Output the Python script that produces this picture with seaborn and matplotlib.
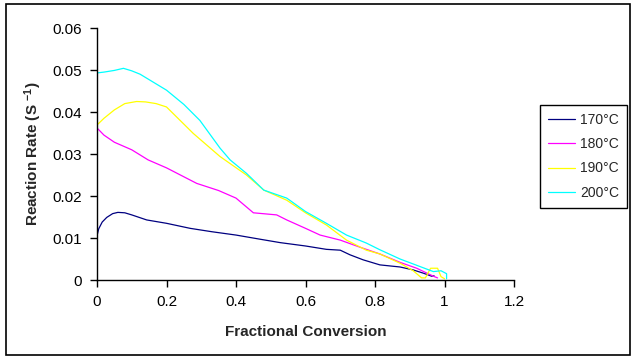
import numpy as np
import pandas as pd
import matplotlib
matplotlib.use('Agg')
import matplotlib.pyplot as plt
from matplotlib.patches import Rectangle
from matplotlib.ticker import FuncFormatter
import seaborn as sns

# 数据
x_170 = [0, 0.005, 0.015, 0.028, 0.045, 0.06, 0.08, 0.1, 0.143, 0.2, 0.268, 0.33, 0.4, 0.47,
         0.527, 0.6, 0.66, 0.7, 0.728, 0.766, 0.814, 0.872, 0.91, 0.94, 0.963, 0.97]
y_170 = [0.0105, 0.0122, 0.0138, 0.0149, 0.0158, 0.0161, 0.016, 0.0155, 0.0143, 0.0135, 0.0123,
         0.0115, 0.0107, 0.0097, 0.0089, 0.0081, 0.0073, 0.0071, 0.006, 0.0048, 0.0036, 0.0031,
         0.0024, 0.0016, 0.0009, 0.001]

x_180 = [0, 0.02, 0.05, 0.1, 0.147, 0.2, 0.287, 0.35, 0.4, 0.45, 0.517, 0.546, 0.6, 0.642, 0.7,
         0.757, 0.814, 0.872, 0.92, 0.968, 0.98]
y_180 = [0.0362, 0.0345, 0.0328, 0.031, 0.0286, 0.0267, 0.023, 0.0213, 0.0195, 0.016, 0.0155,
         0.0143, 0.0123, 0.0107, 0.0095, 0.0078, 0.0062, 0.0042, 0.0028, 0.0009, 0.0005]

x_190 = [0, 0.02, 0.05, 0.08, 0.114, 0.14, 0.17, 0.2, 0.277, 0.354, 0.43, 0.48, 0.546, 0.6, 0.66,
         0.718, 0.775, 0.814, 0.872, 0.91, 0.934, 0.945, 0.96, 0.98, 0.99, 1.0]
y_190 = [0.0369, 0.0385, 0.0405, 0.042, 0.0425, 0.0424, 0.042, 0.0412, 0.0349, 0.0294, 0.025,
         0.0214, 0.019, 0.016, 0.0131, 0.0095, 0.0071, 0.0062, 0.004, 0.0022, 0.0005, 0.0005,
         0.0028, 0.0028, 0.0008, 0.0003]

x_200 = [0, 0.02, 0.05, 0.076, 0.1, 0.124, 0.16, 0.2, 0.25, 0.296, 0.354, 0.383, 0.43, 0.48,
         0.546, 0.6, 0.66, 0.718, 0.775, 0.814, 0.872, 0.92, 0.968, 0.99, 1.006, 1.006]
y_200 = [0.0493, 0.0495, 0.0499, 0.0504, 0.0498, 0.049, 0.0472, 0.0452, 0.0418, 0.038, 0.0314,
         0.0286, 0.0254, 0.0214, 0.0195, 0.0163, 0.0135, 0.0107, 0.0088, 0.0072, 0.005, 0.0035,
         0.002, 0.0022, 0.0015, 0.0003]

labels = ['170°C', '180°C', '190°C', '200°C']
colors = ['#000080', '#FF00FF', '#FFFF00', '#00FFFF']
x_ticks = [0, 0.2, 0.4, 0.6, 0.8, 1, 1.2]
y_ticks = [0, 0.01, 0.02, 0.03, 0.04, 0.05, 0.06]

# 整理成长表
frames = []
for lab, xs, ys in zip(labels, [x_170, x_180, x_190, x_200], [y_170, y_180, y_190, y_200]):
    frames.append(pd.DataFrame({'x': xs, 'y': ys, 'temp': lab}))
df = pd.concat(frames, ignore_index=True)

sns.set_style('ticks')
plt.rcParams['font.family'] = ['Liberation Sans', 'DejaVu Sans']
plt.rcParams['mathtext.fontset'] = 'custom'
plt.rcParams['mathtext.rm'] = 'Liberation Sans:bold'
plt.rcParams['mathtext.it'] = 'Liberation Sans:bold'

fig = plt.figure(figsize=(6.39, 3.62), dpi=100)
ax = fig.add_axes([97 / 639, 1 - 280 / 362, 417 / 639, 252 / 362])

sns.lineplot(data=df, x='x', y='y', hue='temp', palette=dict(zip(labels, colors)),
             estimator=None, sort=False, units='temp', linewidth=0.9, ax=ax)

ax.set_xlim(0, 1.2)
ax.set_ylim(0, 0.06)
ax.set_xticks(x_ticks)
ax.set_yticks(y_ticks)
fmt = FuncFormatter(lambda v, p: '%g' % round(v, 4))
ax.xaxis.set_major_formatter(fmt)
ax.yaxis.set_major_formatter(fmt)
ax.tick_params(axis='both', direction='out', length=5, width=1, color='black',
               labelsize=11, pad=6, labelcolor='black')
for s in ['top', 'right']:
    ax.spines[s].set_visible(False)
for s in ['left', 'bottom']:
    ax.spines[s].set_color('black')
    ax.spines[s].set_linewidth(1)

ax.set_xlabel('Fractional Conversion', fontsize=11, fontweight='bold', labelpad=11)
ax.set_ylabel('Reaction Rate (S $^{-1}$)', fontsize=11, fontweight='bold', labelpad=6)

leg = ax.legend(loc='upper left', bbox_to_anchor=(540 / 639, 1 - 105 / 362),
                bbox_transform=fig.transFigure, borderaxespad=0, frameon=True,
                fancybox=False, edgecolor='black', framealpha=1, fontsize=10,
                handlelength=2.0, handletextpad=0.35, labelspacing=0.75, borderpad=0.55)
leg.get_frame().set_linewidth(1)

# 外框
fig.patches.append(Rectangle((6 / 639, 1 - 355 / 362), 624 / 639, 351 / 362,
                             transform=fig.transFigure, fill=False, edgecolor='black',
                             linewidth=1.2))

fig.savefig('out.png', dpi=100)
